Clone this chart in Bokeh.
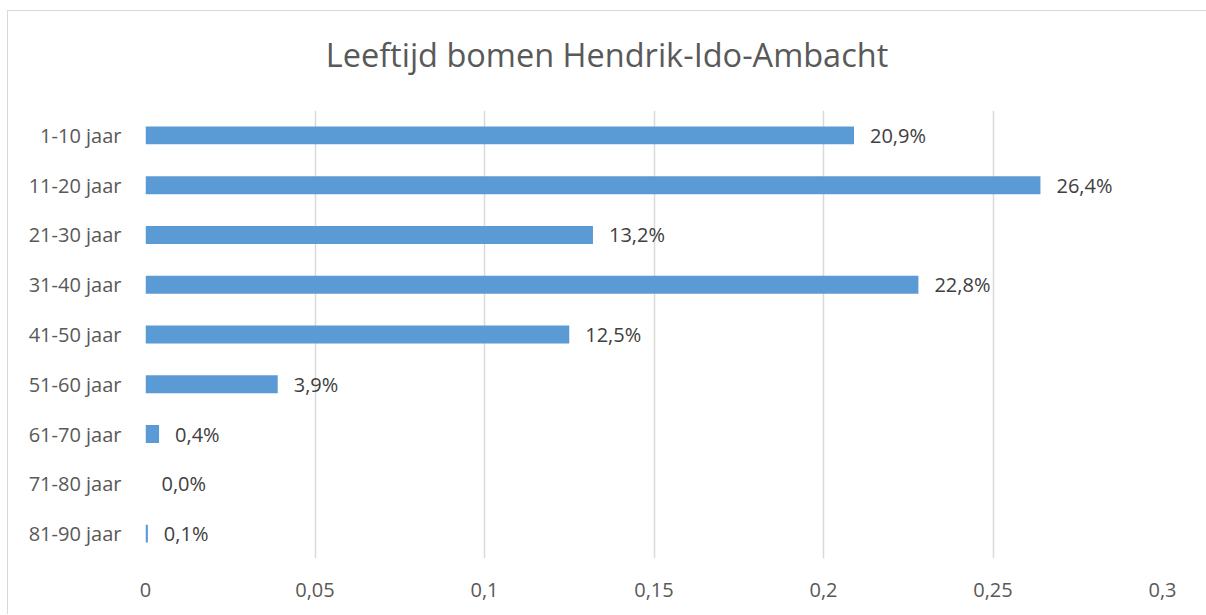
from bokeh.plotting import figure
from bokeh.models import ColumnDataSource, FixedTicker, Range1d, FactorRange, LabelSet, Div
from bokeh.layouts import column
from bokeh.embed import file_html
from bokeh.resources import INLINE
from bokeh.core.properties import value

categories = ["1-10 jaar", "11-20 jaar", "21-30 jaar", "31-40 jaar", "41-50 jaar",
              "51-60 jaar", "61-70 jaar", "71-80 jaar", "81-90 jaar"]
shares = [0.209, 0.264, 0.132, 0.228, 0.125, 0.039, 0.004, 0.0, 0.0007]
tick_values = [0, 0.05, 0.1, 0.15, 0.2, 0.25, 0.3]
tick_labels = ["0", "0,05", "0,1", "0,15", "0,2", "0,25", "0,3"]
title_text = "Leeftijd bomen Hendrik-Ido-Ambacht"

labels = [("%.1f%%" % (v * 100)).replace(".", ",") for v in shares]
src = ColumnDataSource(dict(cat=categories, val=shares, lab=labels))

FONT = "Open Sans"
W = 1198
TOP = 99
H = 603 - TOP

title_div = Div(
    text=('<div style="position:absolute;top:22px;left:0;width:%dpx;text-align:center;'
          'line-height:44px;font-size:32.5px;font-family:\'Open Sans\';color:#595959;'
          'white-space:nowrap;">%s</div>') % (W, title_text),
    width=W, height=TOP, margin=(0, 0, 0, 0))

p = figure(width=W, height=H, output_backend="svg", toolbar_location=None,
           y_range=FactorRange(*categories[::-1], range_padding=0),
           x_range=Range1d(0, 0.3),
           min_border_left=137, min_border_right=44, min_border_top=0, min_border_bottom=56)
p.y_range.factor_padding = 0
p.outline_line_color = None
p.hbar(y="cat", right="val", left=0, height=0.36, source=src,
       fill_color="#5b9bd5", line_color=None)

lbl = LabelSet(x="val", y="cat", text="lab", source=src, x_offset=16,
               text_align="left", text_baseline="middle",
               text_font=value(FONT), text_font_size="20px", text_color="#404040")
p.add_layout(lbl)

p.xaxis.ticker = FixedTicker(ticks=tick_values)
p.xaxis.major_label_overrides = {v: l for v, l in zip(tick_values, tick_labels)}
p.xaxis.axis_line_color = None
p.xaxis.major_tick_line_color = None
p.xaxis.minor_tick_line_color = None
p.xaxis.major_label_standoff = 18
p.xaxis.major_label_text_font = FONT
p.xaxis.major_label_text_font_size = "20px"
p.xaxis.major_label_text_color = "#595959"

p.yaxis.axis_line_color = None
p.yaxis.major_tick_line_color = None
p.yaxis.minor_tick_line_color = None
p.yaxis.major_label_standoff = 18
p.yaxis.major_label_text_font = FONT
p.yaxis.major_label_text_font_size = "20px"
p.yaxis.major_label_text_color = "#595959"

p.xgrid.grid_line_color = "#d9d9d9"
p.xgrid.grid_line_width = 1.5
p.ygrid.grid_line_color = None

layout = column(title_div, p, spacing=0)
layout.styles = {"border-top": "1px solid #d9d9d9", "border-left": "1px solid #d9d9d9",
                 "margin-top": "10px", "margin-left": "7px"}

open("out.html", "w").write(file_html(layout, INLINE))
